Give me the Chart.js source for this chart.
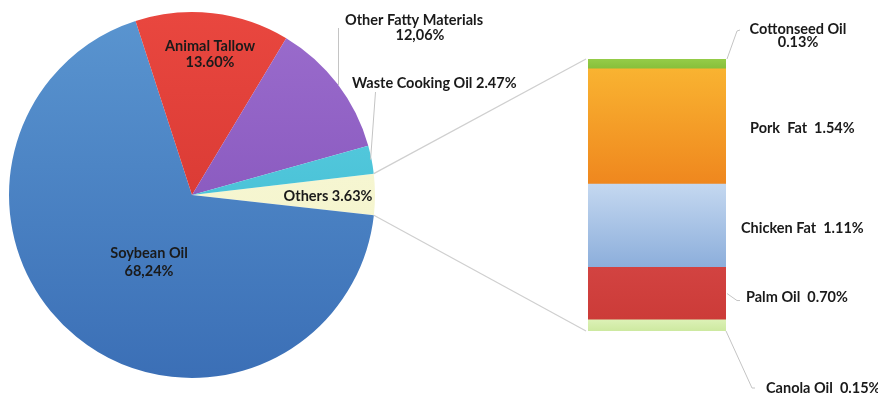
<!DOCTYPE html>
<html lang="en">
<head>
<meta charset="UTF-8" />
<title>Feedstock Shares</title>
<script src="https://cdn.jsdelivr.net/npm/chart.js"></script>
<style>
  html, body { margin: 0; padding: 0; background: #fff; }
  #wrap { position: relative; width: 878px; height: 395px; }
  #wrap canvas { position: absolute; left: 0; top: 0; }
</style>
</head>
<body>
<div id="wrap">
  <canvas id="pieChart" width="878" height="395"></canvas>
  <canvas id="barChart" width="878" height="395"></canvas>
</div>
<script>
// share of each feedstock (%), clockwise starting from "Others"
const pieLabels = ['Others', 'Soybean Oil', 'Animal Tallow', 'Other Fatty Materials', 'Waste Cooking Oil'];
const pieValues = [3.63, 68.24, 13.60, 12.06, 2.47];
const pieSep = ['.', ',', '.', ',', '.'];

// breakdown of "Others", stacked bottom to top
const barLabels = ['Canola Oil', 'Palm Oil', 'Chicken Fat', 'Pork Fat', 'Cottonseed Oil'];
const barValues = [0.15, 0.70, 1.11, 1.54, 0.13];

// colours (top / bottom of a vertical gradient)
const pieColors = [
  ['#f9f9da', '#f2f2c6'],
  ['#5a95d0', '#3b6fb6'],
  ['#e9473f', '#cd302c'],
  ['#9b6dcd', '#7c4ab4'],
  ['#63d2e3', '#33b4cd']
];
const barColors = [
  ['#dcf1b6', '#cde9a0'],
  ['#d24341', '#cc3b38'],
  ['#c4d8f0', '#8caedb'],
  ['#f9b331', '#ef871e'],
  ['#95cc48', '#86bf3a']
];

const FONT = 'bold 14.5px Lato, "Liberation Sans", sans-serif';
const TEXT = '#1a1a1a';
const LEAD = '#c4c4c4';

function pct(v, sep) {
  return v.toFixed(2).replace('.', sep || '.') + '%';
}

function vGradient(ctx, top, bottom, stops) {
  const g = ctx.createLinearGradient(0, top, 0, bottom);
  g.addColorStop(0, stops[0]);
  g.addColorStop(1, stops[1]);
  return g;
}

function line(ctx, pts) {
  ctx.beginPath();
  ctx.moveTo(pts[0][0], pts[0][1]);
  for (let i = 1; i < pts.length; i++) ctx.lineTo(pts[i][0], pts[i][1]);
  ctx.stroke();
}

function text(ctx, str, x, y, align) {
  ctx.textAlign = align || 'center';
  ctx.fillText(str, x, y);
}

// labels on and around the pie
const pieText = {
  id: 'pieText',
  afterDraw(chart) {
    const ctx = chart.ctx;
    const arcs = chart.getDatasetMeta(0).data;
    const cx = arcs[0].x, cy = arcs[0].y, r = arcs[0].outerRadius;
    ctx.save();

    // leader for Other Fatty Materials: straight down onto the rim
    ctx.strokeStyle = LEAD;
    ctx.lineWidth = 1;
    const fx = 338.5;
    line(ctx, [[fx, 28], [fx, cy - Math.sqrt(r * r - (fx - cx) * (fx - cx))]]);
    // leader for Waste Cooking Oil: to the middle of its arc
    const w = arcs[4];
    const wa = (w.startAngle + w.endAngle) / 2;
    line(ctx, [[375.5, 92], [cx + r * Math.cos(wa) - 1, cy + r * Math.sin(wa)]]);

    ctx.font = FONT;
    ctx.fillStyle = TEXT;
    ctx.textBaseline = 'middle';
    text(ctx, pieLabels[2], 210, 46);
    text(ctx, pct(pieValues[2], pieSep[2]), 210, 62);
    text(ctx, pieLabels[1], 149, 253);
    text(ctx, pct(pieValues[1], pieSep[1]), 149, 271);
    text(ctx, pieLabels[0] + ' ' + pct(pieValues[0], pieSep[0]), 328, 196);
    text(ctx, pieLabels[3], 414, 20);
    text(ctx, pct(pieValues[3], pieSep[3]), 420, 35);
    text(ctx, pieLabels[4] + ' ' + pct(pieValues[4], pieSep[4]), 352, 83, 'left');
    ctx.restore();
  }
};

const pieChart = new Chart(document.getElementById('pieChart'), {
  type: 'pie',
  data: {
    labels: pieLabels,
    datasets: [{
      data: pieValues,
      borderWidth: 0,
      backgroundColor: (c) => {
        const a = c.chart.chartArea;
        const stops = pieColors[c.dataIndex];
        if (!a) return stops[0];
        return vGradient(c.chart.ctx, a.top, a.bottom, stops);
      }
    }]
  },
  options: {
    responsive: false,
    animation: false,
    rotation: 83.3,
    layout: { padding: { left: 9, top: 12, right: 503, bottom: 17 } },
    plugins: { legend: { display: false }, tooltip: { enabled: false } }
  },
  plugins: [pieText]
});

// cumulative bounds of each bar segment
const barBase = barValues.map((v, i) => barValues.slice(0, i).reduce((s, x) => s + x, 0));
const barTotal = barValues.reduce((s, x) => s + x, 0);

// zoom lines from the "Others" slice to the bar, plus bar labels
const barText = {
  id: 'barText',
  afterDraw(chart) {
    const ctx = chart.ctx;
    const metas = barValues.map((v, i) => chart.getDatasetMeta(i).data[0]);
    const half = metas[0].width / 2;
    const left = metas[0].x - half, right = metas[0].x + half;
    const top = metas[4].y, bottom = metas[0].base;
    const o = pieChart.getDatasetMeta(0).data[0];

    ctx.save();
    ctx.strokeStyle = '#cfcfcf';
    ctx.lineWidth = 1.2;
    line(ctx, [[o.x + o.outerRadius * Math.cos(o.startAngle), o.y + o.outerRadius * Math.sin(o.startAngle)], [left - 2, top]]);
    line(ctx, [[o.x + o.outerRadius * Math.cos(o.endAngle), o.y + o.outerRadius * Math.sin(o.endAngle)], [left - 2, bottom]]);

    ctx.strokeStyle = LEAD;
    ctx.lineWidth = 1;
    line(ctx, [[right + 1, top], [right + 11, 31], [right + 14, 30]]);
    const palmMid = (metas[1].y + metas[1].base) / 2;
    line(ctx, [[right + 1, palmMid], [right + 11, palmMid + 7], [right + 14, palmMid + 7]]);
    line(ctx, [[right, bottom], [right + 26, 388], [right + 29, 388]]);

    ctx.font = FONT;
    ctx.fillStyle = TEXT;
    ctx.textBaseline = 'middle';
    text(ctx, barLabels[4], 798, 29);
    text(ctx, pct(barValues[4]), 798, 42);
    text(ctx, 'Pork  Fat  ' + pct(barValues[3]), 750, 128, 'left');
    text(ctx, barLabels[2] + '  ' + pct(barValues[2]), 741, 228, 'left');
    text(ctx, barLabels[1] + '  ' + pct(barValues[1]), 746, 297, 'left');
    text(ctx, barLabels[0] + '  ' + pct(barValues[0]), 766, 388, 'left');
    ctx.restore();
  }
};

new Chart(document.getElementById('barChart'), {
  type: 'bar',
  data: {
    labels: ['Others'],
    datasets: barValues.map((v, i) => ({
      label: barLabels[i],
      data: [v],
      borderWidth: 0,
      categoryPercentage: 1,
      barPercentage: 1,
      backgroundColor: (c) => {
        const y = c.chart.scales.y;
        if (!c.chart.chartArea || !y) return barColors[i][0];
        return vGradient(c.chart.ctx, y.getPixelForValue(barBase[i] + v), y.getPixelForValue(barBase[i]), barColors[i]);
      }
    }))
  },
  options: {
    responsive: false,
    animation: false,
    layout: { padding: { left: 588, right: 152, top: 59, bottom: 64 } },
    scales: {
      x: { stacked: true, display: false },
      y: { stacked: true, display: false, min: 0, max: barTotal }
    },
    plugins: { legend: { display: false }, tooltip: { enabled: false } }
  },
  plugins: [barText]
});
</script>
</body>
</html>
